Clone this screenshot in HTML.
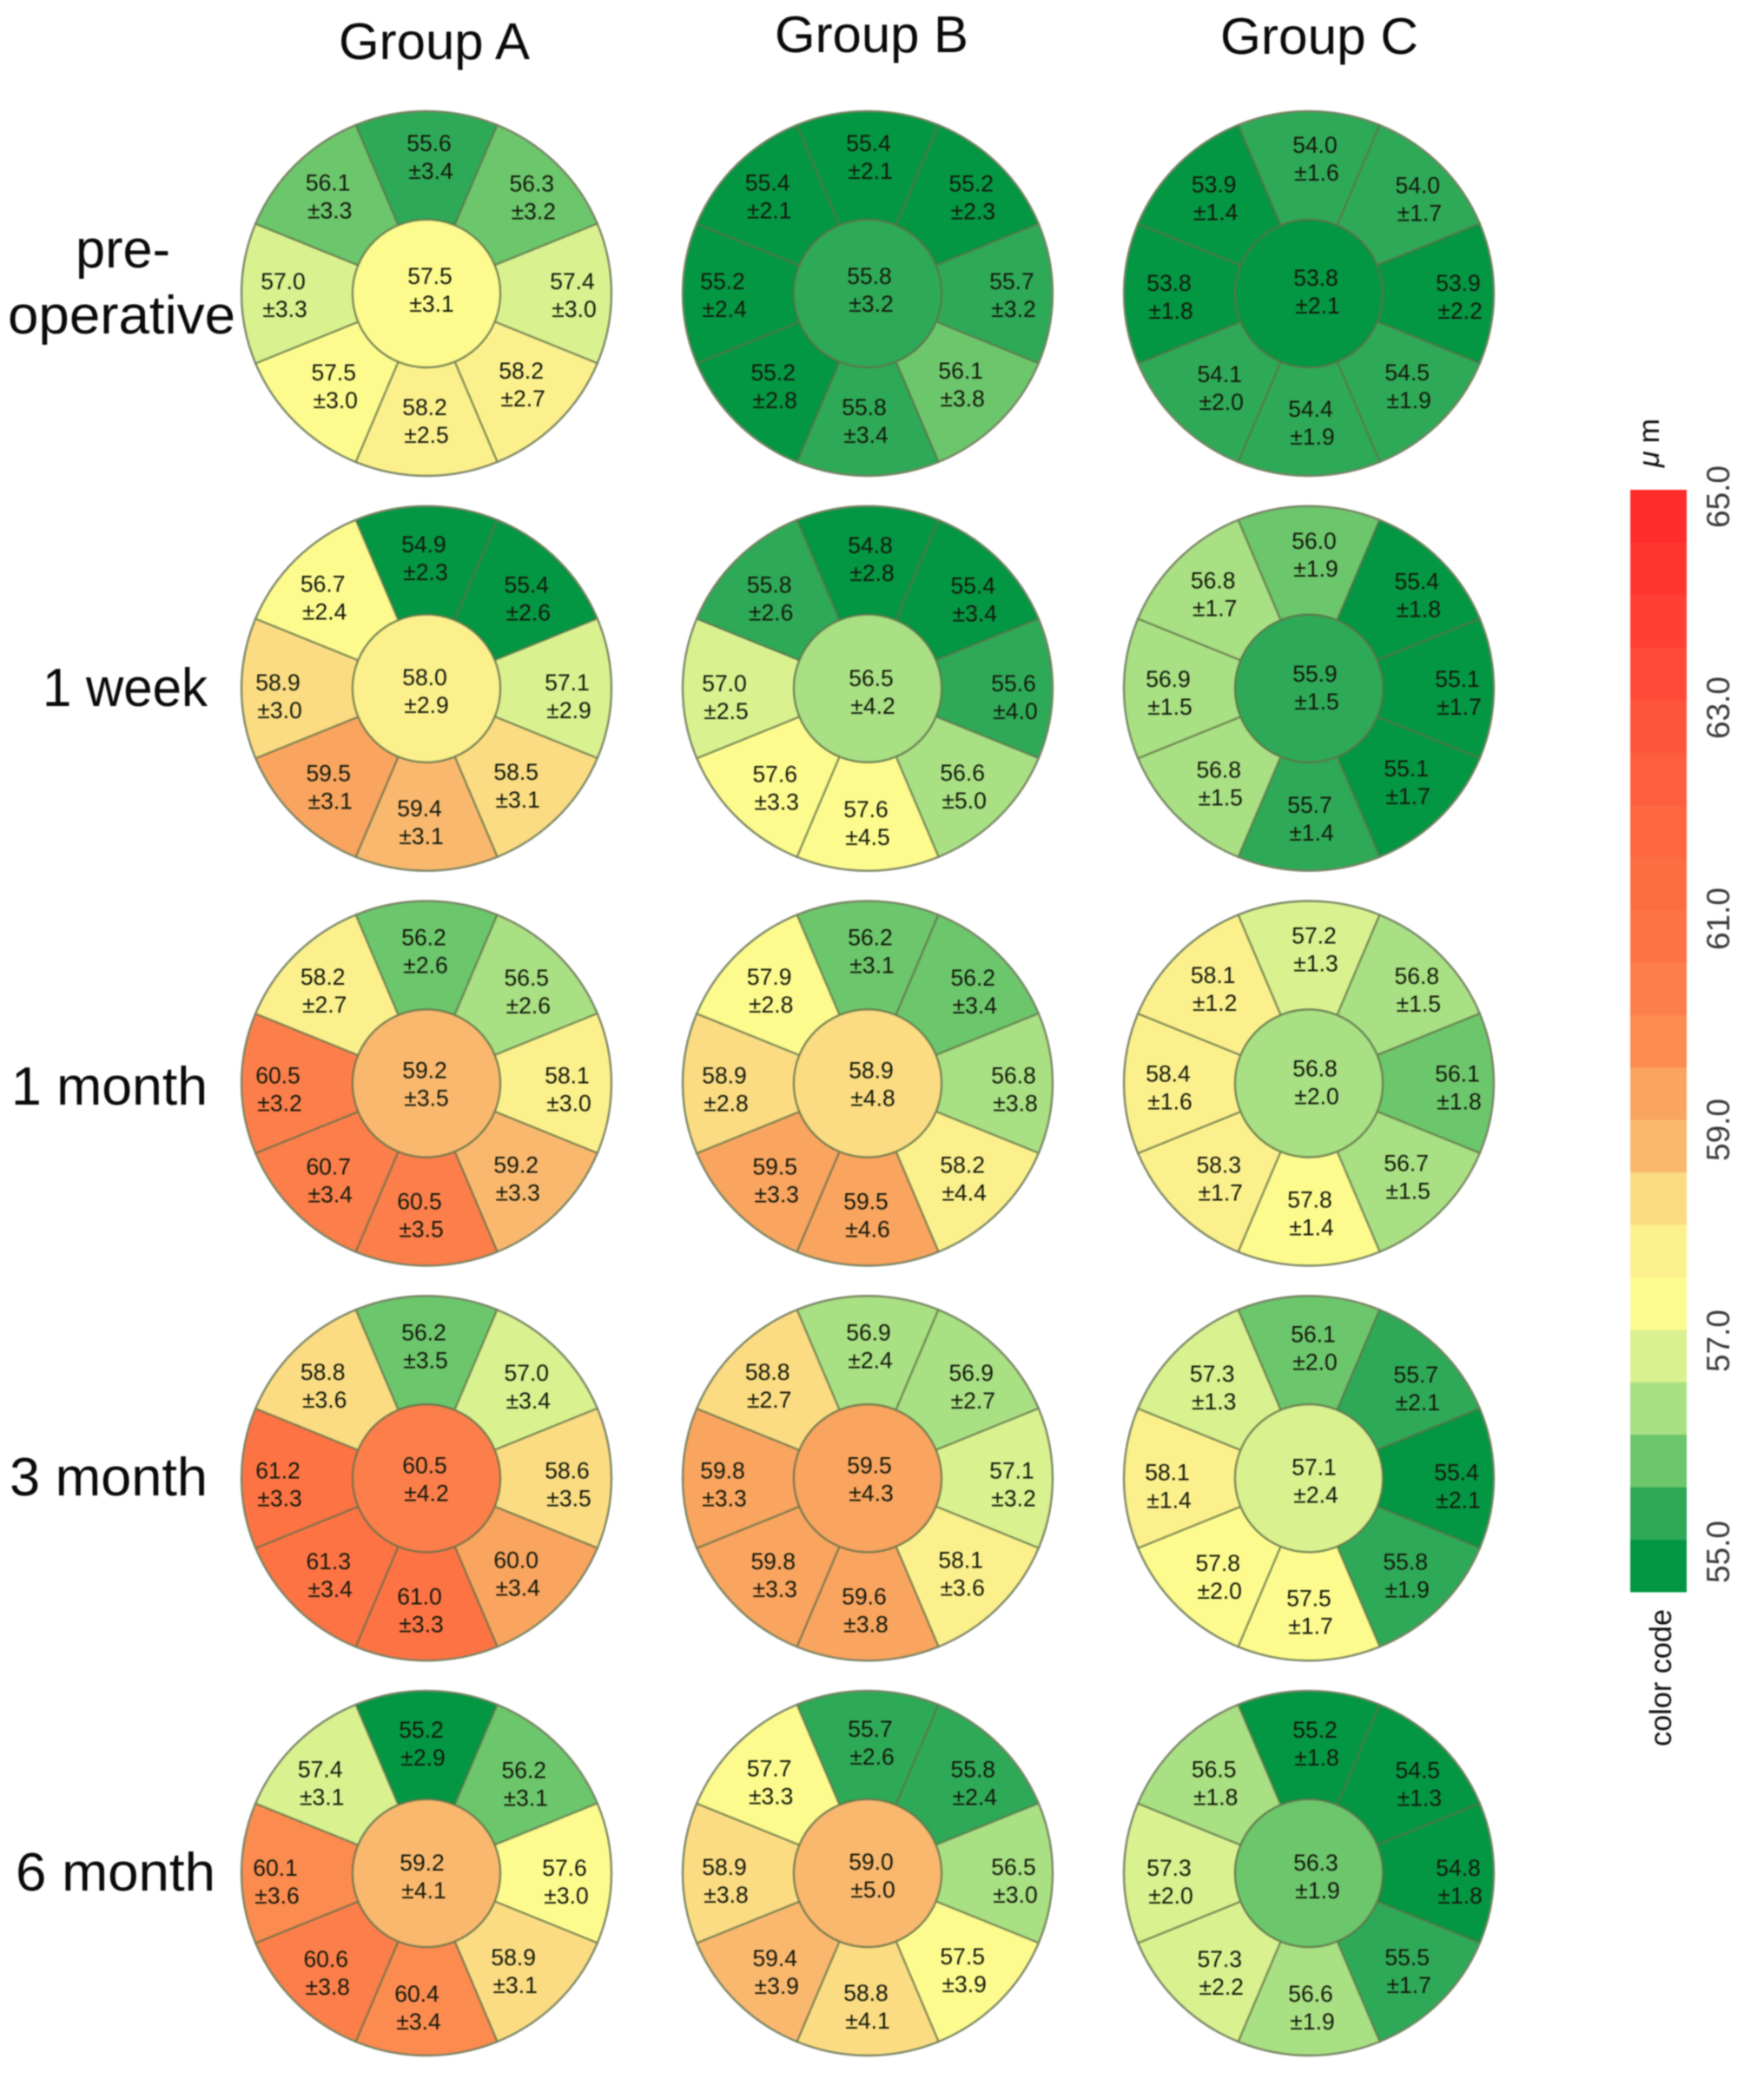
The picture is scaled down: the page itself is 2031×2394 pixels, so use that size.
<!DOCTYPE html>
<html lang="en">
<head>
<meta charset="utf-8">
<title>Thickness maps by group and follow-up</title>
<style>
html,body{margin:0;padding:0;background:#fff;}
svg{display:block;filter:blur(0.8px);}
text{font-family:"Liberation Sans",Arial,sans-serif;}
</style>
</head>
<body>
<svg id="chart" xmlns="http://www.w3.org/2000/svg" width="2031" height="2394" viewBox="0 0 2031 2394"></svg>
<script>
const groups = ["Group A", "Group B", "Group C"];
const sectors = ["n", "ne", "e", "se", "s", "sw", "w", "nw", "center"];
const barTicks = [55, 57, 59, 61, 63, 65];
const stepColors = ["#039643","#2ea957","#6cc66c","#a8e083","#d9f18f","#fdfb8e","#fcf08c","#fbdc82","#f9b86e","#f9a45f","#fc8b50","#fc7e4a","#fd7344","#fd6d42","#fe6740","#fe5e3d","#fe543b","#ff4a37","#ff4033","#ff3630","#ff2c2c"];

const meansA = [
  [55.6,56.3,57.4,58.2,58.2,57.5,57.0,56.1,57.5],
  [54.9,55.4,57.1,58.5,59.4,59.5,58.9,56.7,58.0],
  [56.2,56.5,58.1,59.2,60.5,60.7,60.5,58.2,59.2],
  [56.2,57.0,58.6,60.0,61.0,61.3,61.2,58.8,60.5],
  [55.2,56.2,57.6,58.9,60.4,60.6,60.1,57.4,59.2]
];
const sdsA = [
  [3.4,3.2,3.0,2.7,2.5,3.0,3.3,3.3,3.1],
  [2.3,2.6,2.9,3.1,3.1,3.1,3.0,2.4,2.9],
  [2.6,2.6,3.0,3.3,3.5,3.4,3.2,2.7,3.5],
  [3.5,3.4,3.5,3.4,3.3,3.4,3.3,3.6,4.2],
  [2.9,3.1,3.0,3.1,3.4,3.8,3.6,3.1,4.1]
];
const meansB = [
  [55.4,55.2,55.7,56.1,55.8,55.2,55.2,55.4,55.8],
  [54.8,55.4,55.6,56.6,57.6,57.6,57.0,55.8,56.5],
  [56.2,56.2,56.8,58.2,59.5,59.5,58.9,57.9,58.9],
  [56.9,56.9,57.1,58.1,59.6,59.8,59.8,58.8,59.5],
  [55.7,55.8,56.5,57.5,58.8,59.4,58.9,57.7,59.0]
];
const sdsB = [
  [2.1,2.3,3.2,3.8,3.4,2.8,2.4,2.1,3.2],
  [2.8,3.4,4.0,5.0,4.5,3.3,2.5,2.6,4.2],
  [3.1,3.4,3.8,4.4,4.6,3.3,2.8,2.8,4.8],
  [2.4,2.7,3.2,3.6,3.8,3.3,3.3,2.7,4.3],
  [2.6,2.4,3.0,3.9,4.1,3.9,3.8,3.3,5.0]
];
const meansC = [
  [54.0,54.0,53.9,54.5,54.4,54.1,53.8,53.9,53.8],
  [56.0,55.4,55.1,55.1,55.7,56.8,56.9,56.8,55.9],
  [57.2,56.8,56.1,56.7,57.8,58.3,58.4,58.1,56.8],
  [56.1,55.7,55.4,55.8,57.5,57.8,58.1,57.3,57.1],
  [55.2,54.5,54.8,55.5,56.6,57.3,57.3,56.5,56.3]
];
const sdsC = [
  [1.6,1.7,2.2,1.9,1.9,2.0,1.8,1.4,2.1],
  [1.9,1.8,1.7,1.7,1.4,1.5,1.5,1.7,1.5],
  [1.3,1.5,1.8,1.5,1.4,1.7,1.6,1.2,2.0],
  [2.0,2.1,2.1,1.9,1.7,2.0,1.4,1.3,2.4],
  [1.8,1.3,1.8,1.7,1.9,2.2,2.0,1.8,1.9]
];
const allMeans = [meansA, meansB, meansC];
const allSds = [sdsA, sdsB, sdsC];

const NS = "http://www.w3.org/2000/svg";
const svg = document.getElementById("chart");

function make(tag, attrs, parent) {
  const el = document.createElementNS(NS, tag);
  for (const k in attrs) el.setAttribute(k, attrs[k]);
  (parent || svg).appendChild(el);
  return el;
}

/* axis functions */
function colX(g) { return 491 + 508 * g; }
function rowY(r) { return 338 + 454.75 * r; }
function barStepTop(i) { return 1833 - (i + 1) * (1269 / 21); }
function barTickY(v) { return 1787 - (v - 55) * 121.5; }

/* value to colour step of the 0.5-wide colour code */
function stepOf(v, g, r, s) {
  if (g === 2 && r === 0) return v < 54 ? 0 : 1;
  if (g === 0 && r === 1 && s === 7) return 5;
  if (g === 0 && r === 3 && s === 3) return 9;
  return Math.max(0, Math.min(20, Math.floor((v - 55) / 0.5)));
}

const RX = 213, RY = 210, INNER = 85;
const HALF = Math.PI / 8;

/* label placement, not data: radial distance, per-sector nudge, per-panel nudge */
const labelRadius = [154, 163, 168, 153, 150, 151, 163, 156];
const labelNudgeX = [0, 3, -3, -2, -5, -3, -5, -6];
const labelNudgeY = [0, 8, 5, 0, 0, 3, 5, 2];
const panelNudgeX = [[0,-6,-6,-6,-9],[-2,0,0,-2,0],[4,3,3,2,4]];
const panelNudgeY = [[-5,2,0,0,3],[-5,3,0,0,2],[-3,-2,-2,2,3]];

function pt(cx, cy, rx, ry, a) {
  return [cx + rx * Math.sin(a), cy - ry * Math.cos(a)];
}
function wedgePath(cx, cy, k) {
  const a0 = k * Math.PI / 4 - HALF, a1 = k * Math.PI / 4 + HALF;
  const p0 = pt(cx, cy, RX, RY, a0), p1 = pt(cx, cy, RX, RY, a1);
  const p2 = pt(cx, cy, INNER, INNER, a1), p3 = pt(cx, cy, INNER, INNER, a0);
  return "M" + p0[0] + " " + p0[1] + "A" + RX + " " + RY + " 0 0 1 " + p1[0] + " " + p1[1] +
    "L" + p2[0] + " " + p2[1] + "A" + INNER + " " + INNER + " 0 0 0 " + p3[0] + " " + p3[1] + "Z";
}
function drawCellLabel(parent, x, y, mean, sd) {
  const t1 = make("text", {x: x, y: y - 6, "text-anchor": "middle", "font-size": 26.5, fill: "#141a0c"}, parent);
  
  
  t1.textContent = mean.toFixed(1);
  const t2 = make("text", {x: x + 2, y: y + 26, "text-anchor": "middle", "font-size": 26.5, fill: "#141a0c"}, parent);
  
  
  t2.textContent = "\u00b1" + sd.toFixed(1);
}

function drawPanel(g, r) {
  const cx = colX(g), cy = rowY(r);
  const means = allMeans[g][r], sds = allSds[g][r];
  const panel = make("g", {});
  
  
  for (let k = 0; k < 8; k++) {
    const wedge = make("path", {d: wedgePath(cx, cy, k), fill: stepColors[stepOf(means[k], g, r, k)], stroke: "#5f7048", "stroke-opacity": 0.6, "stroke-width": 2.4}, panel);
    
    
  }
  const ring = make("ellipse", {cx: cx, cy: cy, rx: RX, ry: RY, fill: "none", stroke: "#7a8566", "stroke-opacity": 0.7, "stroke-width": 2.4}, panel);
  
  
  const inner = make("circle", {cx: cx, cy: cy, r: INNER, fill: stepColors[stepOf(means[8], g, r, 8)], stroke: "#5f7048", "stroke-opacity": 0.65, "stroke-width": 2.4}, panel);
  
  
  const px = panelNudgeX[g][r], py = panelNudgeY[g][r];
  for (let k = 0; k < 8; k++) {
    const a = k * Math.PI / 4;
    const p = pt(cx + 3, cy + 1, labelRadius[k], labelRadius[k], a);
    drawCellLabel(panel, p[0] + px + labelNudgeX[k], p[1] + py + labelNudgeY[k], means[k], sds[k]);
  }
  drawCellLabel(panel, cx + 4 + px, cy + py, means[8], sds[8]);
}

function fitText(str, x0, x1, base, size, name) {
  const t = make("text", {x: x0, y: base, "font-size": size, fill: "#0a0a0a", textLength: x1 - x0, lengthAdjust: "spacingAndGlyphs"});
  
  
  t.textContent = str;
  return t;
}

/* group headers */
fitText(groups[0], 390, 610, 68, 59, 'group-a-title');
fitText(groups[1], 892, 1115, 60, 59, 'group-b-title');
fitText(groups[2], 1405, 1633, 62, 59, 'group-c-title');

/* row headers */
fitText("pre-", 87, 196, 308, 62, 'row-label-pre');
fitText("operative", 9, 271, 384, 62, 'row-label-operative');
fitText("1 week", 49, 239, 813, 62, 'row-label-1-week');
fitText("1 month", 13, 239, 1272, 62, 'row-label-1-month');
fitText("3 month", 11, 239, 1722, 62, 'row-label-3-month');
fitText("6 month", 18, 248, 2177, 62, 'row-label-6-month');

/* panels */
for (let g = 0; g < groups.length; g++) {
  for (let r = 0; r < allMeans[g].length; r++) drawPanel(g, r);
}

/* colour bar */
const bar = make("g", {});


stepColors.forEach(function (c, i) {
  const seg = make("rect", {x: 1877, y: barStepTop(i), width: 65, height: 1269 / 21 + 0.5, fill: c}, bar);
  
  
});
barTicks.forEach(function (v) {
  const y = barTickY(v);
  const t = make("text", {transform: "translate(1991 " + y + ") rotate(-90)", "text-anchor": "middle", "font-size": 37, fill: "#3a3a3a", textLength: 72, lengthAdjust: "spacingAndGlyphs"});
  
  
  t.textContent = v.toFixed(1);
});
const cc = make("text", {transform: "translate(1924 2011) rotate(-90)", "font-size": 35, fill: "#111", textLength: 158, lengthAdjust: "spacingAndGlyphs"});


cc.textContent = "color code";
const um = make("text", {transform: "translate(1910 538) rotate(-90)", "font-size": 34, fill: "#111", textLength: 56, lengthAdjust: "spacing"});


const mu = make("tspan", {"font-style": "italic"}, um);
mu.textContent = "\u03bc";
const mm = make("tspan", {dx: 2}, um);
mm.textContent = "m";
</script>
</body>
</html>
